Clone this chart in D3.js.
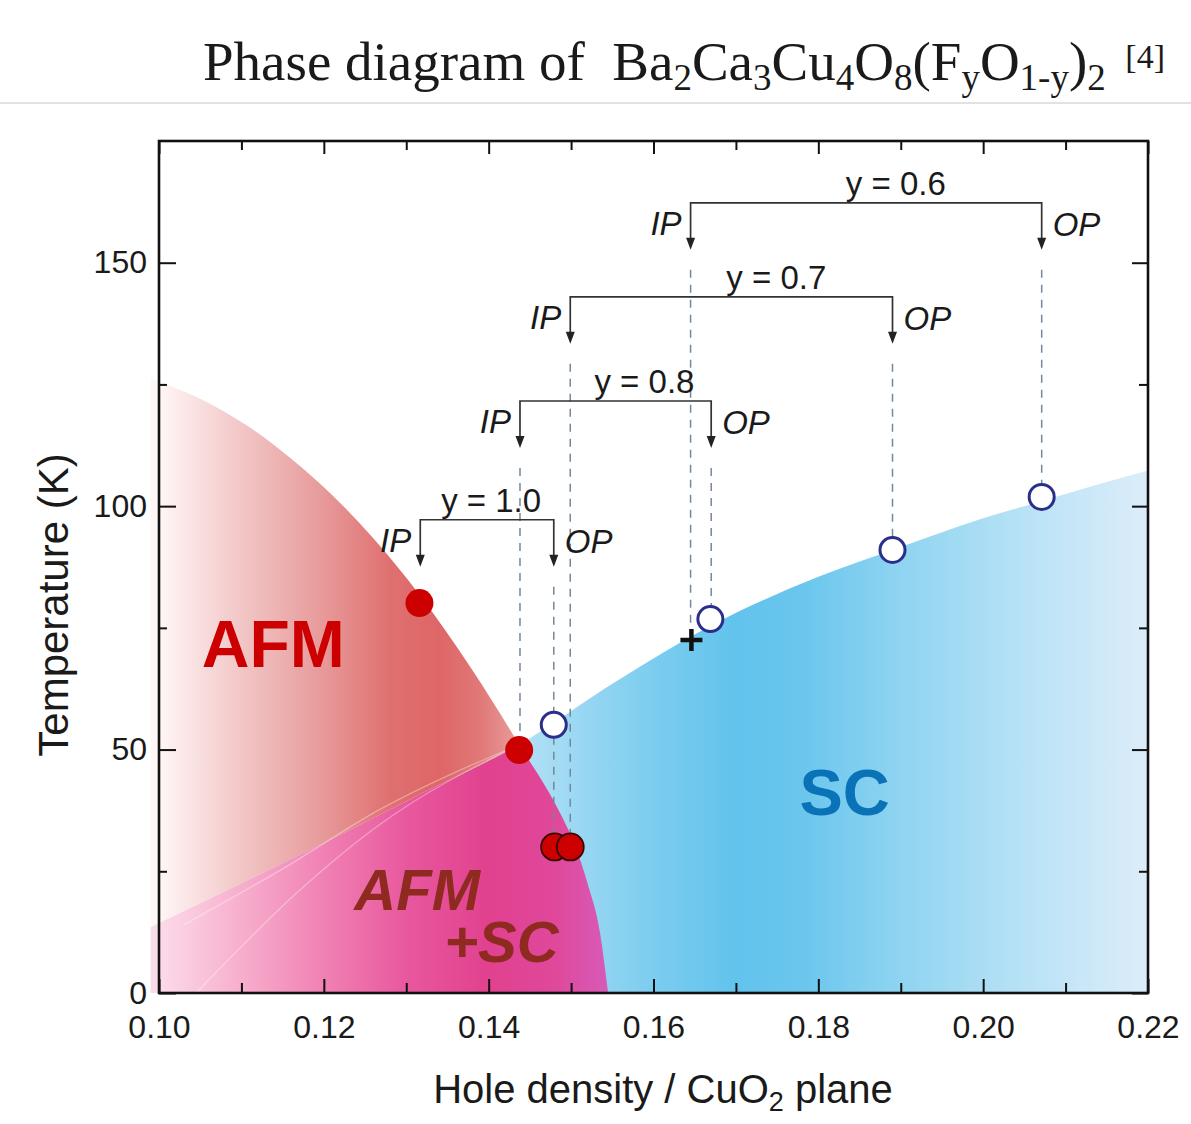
<!DOCTYPE html>
<html>
<head>
<meta charset="utf-8">
<script src="https://cdn.jsdelivr.net/npm/d3@7"></script>
<style>
  body { margin: 0; background: #fff; }
  svg { display: block; }
  text { font-family: "Liberation Sans", Arial, sans-serif; fill: #1a1a1a; }
</style>
</head>
<body>
<svg id="chart" width="1191" height="1124"></svg>
<script>
// ---- data ----
const xMajor = [0.10, 0.12, 0.14, 0.16, 0.18, 0.20, 0.22]
const xMinor = [0.11, 0.13, 0.15, 0.17, 0.19, 0.21]
const yMajor = [0, 50, 100, 150]
const yMinor = [25, 75, 125]

// Neel line (AFM boundary), [hole density, T]
const afmBoundary = [[0.099, 126.2], [0.1005, 125.3], [0.106, 121.2], [0.111, 116.2], [0.116, 109.8],
    [0.121, 102.3], [0.126, 93.4], [0.1316, 81.8], [0.138, 66.4], [0.1437, 51], [0.1488, 36.5],
    [0.1505, 30.2], [0.152, 22.5], [0.1535, 12.5], [0.1545, 0]]
// SC dome upper edge
const scDome = [[0.099, 13.5], [0.11, 22.5], [0.12, 30.8], [0.1325, 41.5], [0.1437, 51],
    [0.155, 63.5], [0.167, 75.5], [0.18, 85.5], [0.189, 91], [0.20, 97.5], [0.207, 101],
    [0.214, 104.5], [0.22, 107.3]]
// faint inner dome lines inside the AFM+SC region
const innerLineA = [[0.1045, 0], [0.117, 21], [0.1267, 34.5], [0.1437, 51]]
const innerLineB = [[0.103, 14], [0.115, 25.5], [0.1267, 37.6], [0.1437, 51]]

// bracket annotations (y = F content)
const bracketLabels = ["y = 0.6", "y = 0.7", "y = 0.8", "y = 1.0"]
const bracketIP = [0.1645, 0.1499, 0.1438, 0.1317]
const bracketOP = [0.2071, 0.189, 0.167, 0.1479]
const bracketT = [162.3, 143, 121.6, 97.2]
const bracketLabelX = [0.1894, 0.1749, 0.1589, 0.1403]
const ipEndT = [72.5, 30, 50, null]
const opEndT = [101.9, 91, 76.8, 30]

// markers
const afmX = [0.1316, 0.1437], afmT = [80.1, 49.9]
const afmScX = [0.148, 0.1499], afmScT = [30, 30]
const scX = [0.1479, 0.1669, 0.189, 0.2071], scT = [55.1, 76.8, 91, 101.9]
const crossX = [0.1646], crossT = [72.5]

// colour stops along hole density
const redStops = [[0.10, "#fff6f6"], [0.11, "#f2c6c6"], [0.12, "#e79999"], [0.128, "#e07070"],
    [0.134, "#de6666"], [0.139, "#e17878"], [0.145, "#eaa8a8"]]
const magentaStops = [[0.10, "#fcdbe9"], [0.11, "#f7aecd"], [0.12, "#f081b3"], [0.13, "#e8589e"],
    [0.14, "#e1418f"], [0.148, "#e0489a"], [0.155, "#d65cbb"]]
const blueStops = [[0.144, "#b2e1f5"], [0.152, "#96d6f2"], [0.16, "#7ccdef"], [0.17, "#62c3ec"],
    [0.178, "#6ac6ed"], [0.19, "#8fd4f1"], [0.205, "#b8e2f6"], [0.22, "#dcedf9"]]

const svg = d3.select("#chart")
const x = d3.scaleLinear().domain([0.10, 0.22]).range([159, 1148])
const y = d3.scaleLinear().domain([0, 175]).range([993, 141])

const defs = svg.append("defs")

function addGradient(id, stops) {
    const x0 = stops[0][0], span = stops[stops.length - 1][0] - x0
    defs.append("linearGradient")
        .attr("id", id)
        .attr("gradientUnits", "userSpaceOnUse")
        .attr("x1", x(x0)).attr("x2", x(x0 + span))
        .attr("y1", 0).attr("y2", 0)
        .selectAll("stop")
        .data(stops)
        .join("stop")
        .attr("offset", d => (d[0] - x0) / span)
        .attr("stop-color", d => d[1])
}
addGradient("g-red", redStops)
addGradient("g-magenta", magentaStops)
addGradient("g-blue", blueStops)

const areaBelow = d3.area().x(d => x(d[0])).y0(y(0)).y1(d => y(d[1])).curve(d3.curveMonotoneX)
const areaAbove = d3.area().x(d => x(d[0])).y0(y(175)).y1(d => y(d[1])).curve(d3.curveMonotoneX)
const line = d3.line().x(d => x(d[0])).y(d => y(d[1])).curve(d3.curveMonotoneX)

defs.append("clipPath").attr("id", "clip-sc").append("path").attr("d", areaBelow(scDome))
defs.append("clipPath").attr("id", "clip-above-sc").append("path").attr("d", areaAbove(scDome))

// ---- phase regions ----
svg.append("path").attr("d", areaBelow(scDome)).attr("fill", "url(#g-blue)")
svg.append("path").attr("d", areaBelow(afmBoundary)).attr("fill", "url(#g-red)")
    .attr("clip-path", "url(#clip-above-sc)")
svg.append("path").attr("d", areaBelow(afmBoundary)).attr("fill", "url(#g-magenta)")
    .attr("clip-path", "url(#clip-sc)")

svg.selectAll(".inner")
    .data([innerLineA, innerLineB])
    .join("path")
    .attr("d", line)
    .attr("fill", "none")
    .attr("stroke", "#fff")
    .attr("stroke-opacity", 0.35)
    .attr("stroke-width", 1.3)

// ---- dashed guides ----
const arrowLen = 47, gap = 20
const guides = []
bracketIP.forEach((v, i) => { if (ipEndT[i] != null) guides.push([v, bracketT[i], ipEndT[i]]) })
bracketOP.forEach((v, i) => guides.push([v, bracketT[i], opEndT[i]]))

svg.append("g")
    .selectAll("line")
    .data(guides)
    .join("line")
    .attr("x1", d => x(d[0])).attr("x2", d => x(d[0]))
    .attr("y1", d => y(d[1]) + arrowLen + gap)
    .attr("y2", d => y(d[2]))
    .attr("stroke", "#73889a")
    .attr("stroke-width", 1.5)
    .attr("stroke-dasharray", "8,7")

// ---- brackets ----
const brackets = bracketLabels.map((label, i) => ({
    label, ip: bracketIP[i], op: bracketOP[i], t: bracketT[i], lx: bracketLabelX[i]
}))
const bg = svg.append("g")
brackets.forEach(b => {
    const yb = y(b.t)
    bg.append("path")
        .attr("d", `M${x(b.ip)},${yb + arrowLen - 10}V${yb}H${x(b.op)}V${yb + arrowLen - 10}`)
        .attr("fill", "none")
        .attr("stroke", "#333")
        .attr("stroke-width", 1.7)
    ;[b.ip, b.op].forEach(v => {
        bg.append("path")
            .attr("d", `M${x(v) - 4.5},${yb + arrowLen - 12}L${x(v) + 4.5},${yb + arrowLen - 12}L${x(v)},${yb + arrowLen}Z`)
            .attr("fill", "#222")
    })
    bg.append("text")
        .attr("x", x(b.lx)).attr("y", yb - 8)
        .attr("text-anchor", "middle")
        .attr("font-size", 33)
        .text(b.label)
    bg.append("text")
        .attr("x", x(b.ip) - 9).attr("y", yb + 32)
        .attr("text-anchor", "end")
        .attr("font-size", 33)
        .attr("font-style", "italic")
        .text("IP")
    bg.append("text")
        .attr("x", x(b.op) + 11).attr("y", yb + 33)
        .attr("font-size", 33)
        .attr("font-style", "italic")
        .text("OP")
})

// ---- markers ----
svg.append("g").selectAll("circle")
    .data(afmX.map((v, i) => [v, afmT[i]]))
    .join("circle")
    .attr("cx", d => x(d[0])).attr("cy", d => y(d[1]))
    .attr("r", 14)
    .attr("fill", "#cc0000")

svg.append("g").selectAll("circle")
    .data(afmScX.map((v, i) => [v, afmScT[i]]))
    .join("circle")
    .attr("cx", d => x(d[0])).attr("cy", d => y(d[1]))
    .attr("r", 13.5)
    .attr("fill", "#cc0000")
    .attr("stroke", "#3a0505")
    .attr("stroke-width", 1.8)

svg.append("g").selectAll("circle")
    .data(scX.map((v, i) => [v, scT[i]]))
    .join("circle")
    .attr("cx", d => x(d[0])).attr("cy", d => y(d[1]))
    .attr("r", 12.5)
    .attr("fill", "#fff")
    .attr("stroke", "#2b2f8c")
    .attr("stroke-width", 3)

svg.append("g").selectAll("path")
    .data(crossX.map((v, i) => [v, crossT[i]]))
    .join("path")
    .attr("d", d => `M${x(d[0]) - 11},${y(d[1])}H${x(d[0]) + 11}M${x(d[0])},${y(d[1]) - 11}V${y(d[1]) + 11}`)
    .attr("stroke", "#111")
    .attr("stroke-width", 4.5)

// ---- phase labels ----
svg.append("text").attr("x", x(0.1052)).attr("y", y(67))
    .attr("font-size", 66).attr("font-weight", "bold").style("fill", "#cc0000").text("AFM")
svg.append("text").attr("x", x(0.1777)).attr("y", y(36.6))
    .attr("font-size", 65).attr("font-weight", "bold").style("fill", "#0a72b6").text("SC")
svg.append("text").attr("x", x(0.1237)).attr("y", y(17))
    .attr("font-size", 58).attr("font-weight", "bold").attr("font-style", "italic")
    .style("fill", "#8e2a20").text("AFM")
svg.append("text").attr("x", x(0.1346)).attr("y", y(6.4))
    .attr("font-size", 58).attr("font-weight", "bold").attr("font-style", "italic")
    .style("fill", "#8e2a20").text("+SC")

// ---- axes ----
function styleAxis(g) {
    g.select(".domain").remove()
    g.selectAll(".tick line").attr("stroke", "#111").attr("stroke-width", 2)
    g.selectAll(".tick text").attr("font-size", 32).style("fill", "#1a1a1a")
        .attr("font-family", "Liberation Sans, Arial, sans-serif")
}
svg.append("g").attr("transform", `translate(0,${y(0)})`)
    .call(d3.axisBottom(x).tickValues(xMajor).tickFormat(d3.format(".2f")).tickSize(-14).tickPadding(22))
    .call(styleAxis)
svg.append("g").attr("transform", `translate(0,${y(0)})`)
    .call(d3.axisBottom(x).tickValues(xMinor).tickFormat("").tickSize(-10))
    .call(styleAxis)
svg.append("g").attr("transform", `translate(0,${y(175)})`)
    .call(d3.axisTop(x).tickValues(xMajor).tickFormat("").tickSize(-13))
    .call(styleAxis)
svg.append("g").attr("transform", `translate(0,${y(175)})`)
    .call(d3.axisTop(x).tickValues(xMinor).tickFormat("").tickSize(-9))
    .call(styleAxis)
svg.append("g").attr("transform", `translate(${x(0.10)},0)`)
    .call(d3.axisLeft(y).tickValues(yMajor).tickSize(-17).tickPadding(12))
    .call(styleAxis)
svg.append("g").attr("transform", `translate(${x(0.10)},0)`)
    .call(d3.axisLeft(y).tickValues(yMinor).tickFormat("").tickSize(-8))
    .call(styleAxis)
svg.append("g").attr("transform", `translate(${x(0.22)},0)`)
    .call(d3.axisRight(y).tickValues(yMajor).tickFormat("").tickSize(-16))
    .call(styleAxis)
svg.append("g").attr("transform", `translate(${x(0.22)},0)`)
    .call(d3.axisRight(y).tickValues(yMinor).tickFormat("").tickSize(-9))
    .call(styleAxis)

svg.append("rect")
    .attr("x", x(0.10)).attr("y", y(175))
    .attr("width", x(0.22) - x(0.10)).attr("height", y(0) - y(175))
    .attr("fill", "none").attr("stroke", "#111").attr("stroke-width", 2.6)

// axis titles
svg.append("text")
    .attr("transform", `translate(68,605) rotate(-90)`)
    .attr("text-anchor", "middle")
    .attr("font-size", 42)
    .text("Temperature (K)")

const xl = svg.append("text")
    .attr("x", 663).attr("y", 1103)
    .attr("text-anchor", "middle")
    .attr("font-size", 40)
xl.append("tspan").text("Hole density / CuO")
xl.append("tspan").attr("font-size", 27).attr("dy", 8).text("2")
xl.append("tspan").attr("dy", -8).text(" plane")

// ---- page title ----
svg.append("line")
    .attr("x1", 0).attr("x2", 1191).attr("y1", 103).attr("y2", 103)
    .attr("stroke", "#e2e2e2").attr("stroke-width", 2)

const titleParts = [["Phase diagram of  Ba", 0], ["2", 1], ["Ca", 0], ["3", 1], ["Cu", 0], ["4", 1],
    ["O", 0], ["8", 1], ["(F", 0], ["y", 1], ["O", 0], ["1-y", 1], [")", 0], ["2", 1]]
const title = svg.append("text")
    .attr("x", 203).attr("y", 80)
    .style("font-family", "'Liberation Serif', 'Times New Roman', serif")
    .style("white-space", "pre")
    .attr("font-size", 55)
let shifted = 0
titleParts.forEach(([t, sub]) => {
    const dy = sub ? 10 - shifted : -shifted
    shifted = sub ? 10 : 0
    title.append("tspan")
        .attr("dy", dy)
        .attr("font-size", sub ? 37 : 55)
        .text(t)
})
svg.append("text")
    .attr("x", 1165).attr("y", 68)
    .attr("text-anchor", "end")
    .style("font-family", "'Liberation Serif', 'Times New Roman', serif")
    .attr("font-size", 34)
    .text("[4]")
</script>
</body>
</html>
